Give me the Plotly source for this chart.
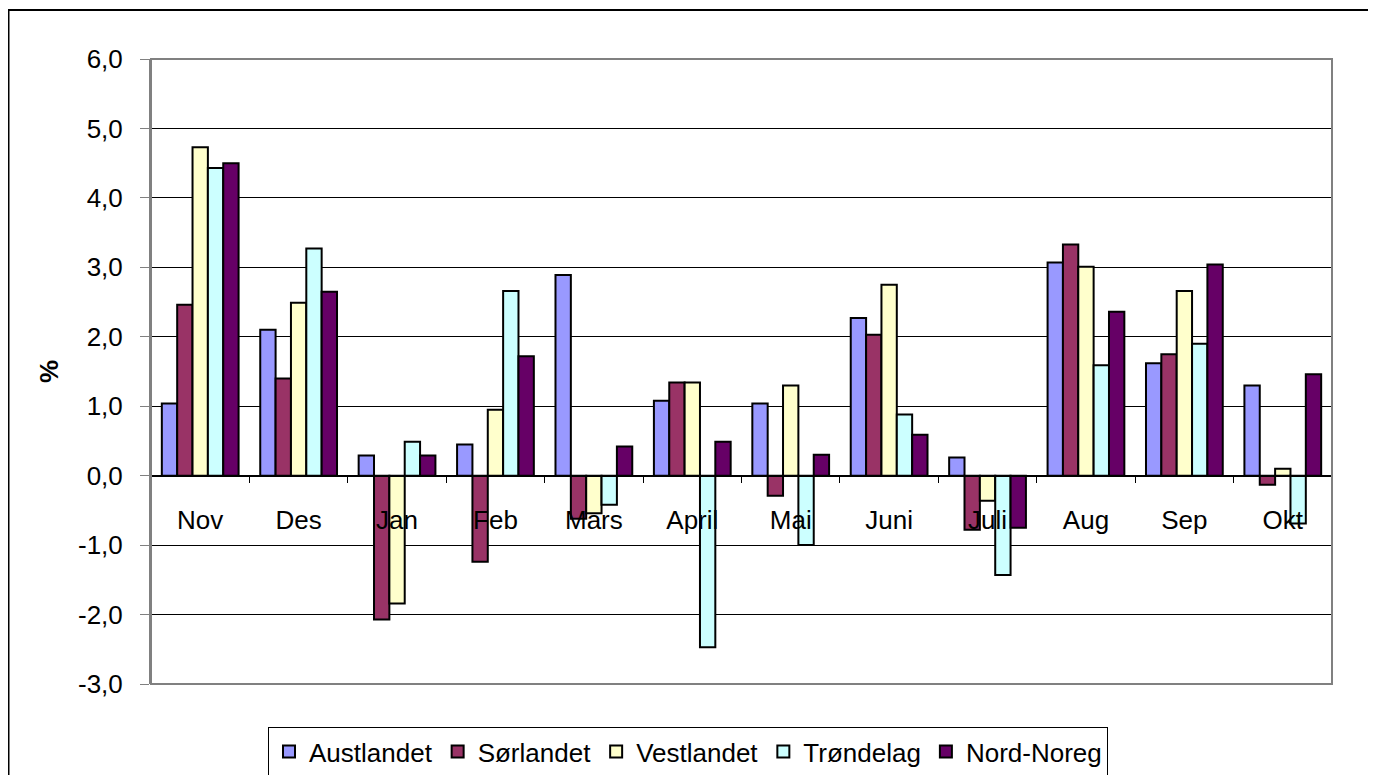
import plotly.graph_objects as go

months = ["Nov", "Des", "Jan", "Feb", "Mars", "April", "Mai", "Juni", "Juli", "Aug", "Sep", "Okt"]
austlandet = [1.04, 2.10, 0.29, 0.45, 2.89, 1.08, 1.04, 2.27, 0.26, 3.07, 1.62, 1.30]
sorlandet = [2.46, 1.40, -2.07, -1.24, -0.62, 1.34, -0.29, 2.03, -0.78, 3.33, 1.75, -0.13]
vestlandet = [4.73, 2.49, -1.84, 0.95, -0.54, 1.34, 1.30, 2.75, -0.36, 3.01, 2.66, 0.10]
trondelag = [4.43, 3.27, 0.49, 2.66, -0.42, -2.47, -1.00, 0.88, -1.43, 1.59, 1.90, -0.69]
nord_noreg = [4.50, 2.65, 0.29, 1.72, 0.42, 0.49, 0.30, 0.59, -0.75, 2.36, 3.04, 1.46]

series = [
    ("Austlandet", austlandet, "#9999FF"),
    ("Sørlandet", sorlandet, "#993366"),
    ("Vestlandet", vestlandet, "#FFFFCC"),
    ("Trøndelag", trondelag, "#CCFFFF"),
    ("Nord-Noreg", nord_noreg, "#660066"),
]
y_ticks = [-3, -2, -1, 0, 1, 2, 3, 4, 5, 6]
y_ticktext = [f"{v:.1f}".replace(".", ",") for v in y_ticks]

fig = go.Figure()
for name, vals, col in series:
    fig.add_trace(go.Bar(
        x=months, y=vals, name=name,
        marker=dict(color=col, line=dict(color="black", width=2)),
    ))

W, H = 1376, 775
L, T = 143, 51
PR, PB = 1324, 676
R, B = W - PR, H - PB
pw, ph = PR - L, PB - T

def px(x):
    return (x - L) / pw

def py(y):
    return (PB - y) / ph

FS = 26

fig.update_layout(
    width=W, height=H,
    margin=dict(l=L, r=R, t=T, b=B, autoexpand=False),
    paper_bgcolor="white", plot_bgcolor="white",
    font=dict(family="Liberation Sans, Arial, sans-serif", size=FS, color="black"),
    barmode="group", bargap=0.22, bargroupgap=0,
    showlegend=True,
    legend=dict(
        orientation="h", x=px(680), xanchor="center", y=py(719), yanchor="top",
        bordercolor="black", borderwidth=1, font=dict(size=FS),
        tracegroupgap=0,
    ),
    xaxis=dict(
        anchor="free", position=3 / 9,
        showline=True, linecolor="black", linewidth=1,
        ticks="outside", tickson="boundaries", ticklen=6, tickcolor="black",
        showgrid=False, ticklabelstandoff=21,
        tickfont=dict(size=FS),
    ),
    yaxis=dict(
        range=[-3, 6], tickvals=y_ticks, ticktext=y_ticktext,
        showgrid=True, gridcolor="black", gridwidth=1,
        zeroline=False,
        showline=True, linecolor="#808080", linewidth=2,
        ticks="outside", ticklen=9, tickcolor="#808080",
        ticklabelstandoff=12,
        tickfont=dict(size=FS),
        title=dict(text="<b>%</b>", font=dict(size=FS), standoff=12),
    ),
    shapes=[
        dict(type="rect", xref="paper", yref="paper", x0=0, x1=1, y0=0, y1=1,
             line=dict(color="#808080", width=2), layer="above"),
        dict(type="rect", xref="paper", yref="paper", x0=px(0.5), x1=px(1390), y0=py(790), y1=py(2),
             line=dict(color="black", width=2)),
    ],
)

fig.write_html("out.html")
